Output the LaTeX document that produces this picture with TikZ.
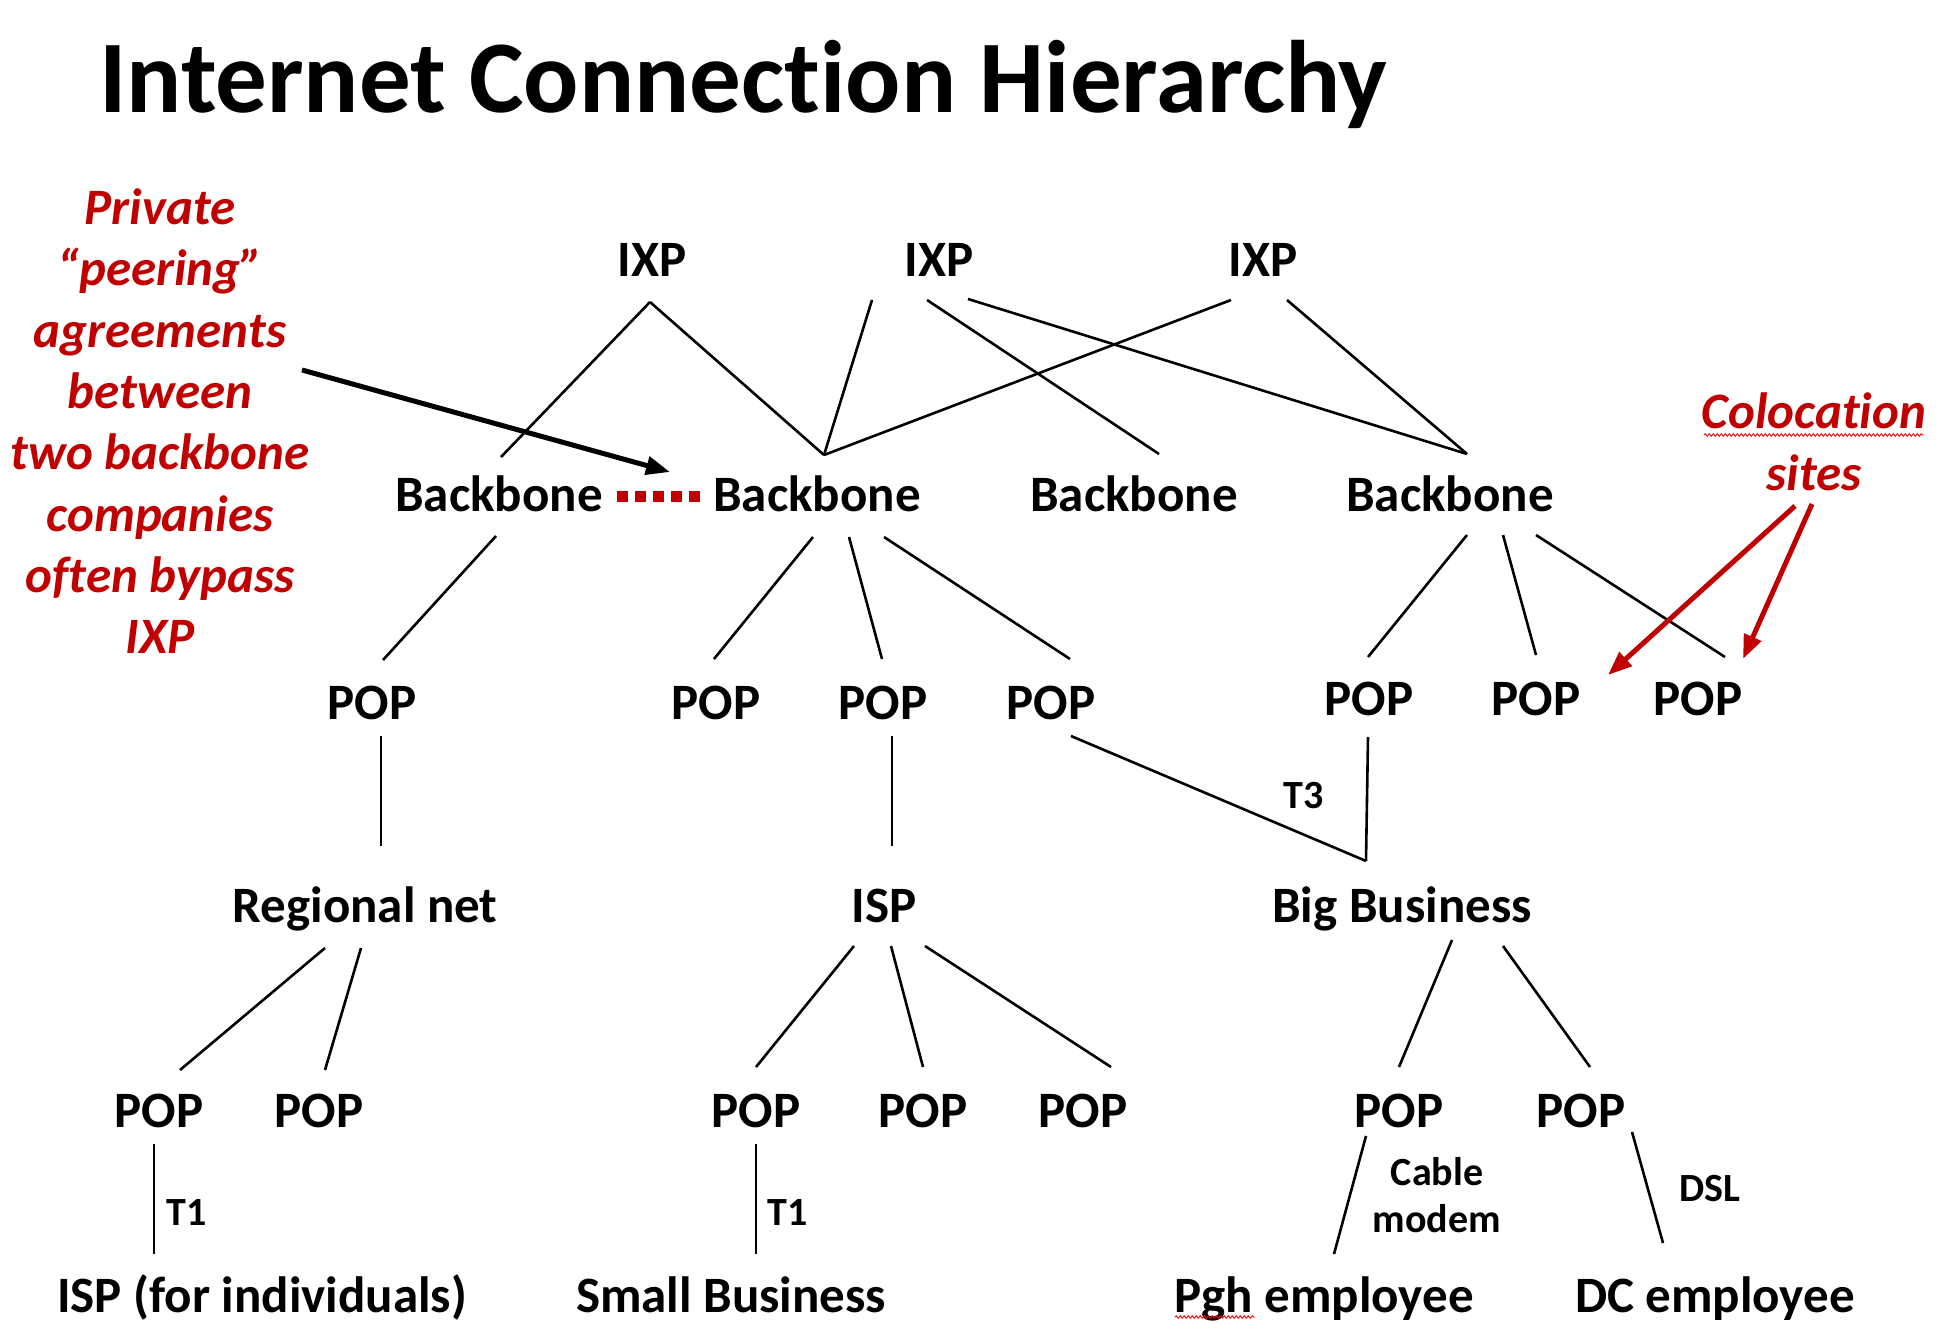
\documentclass[tikz,border=0pt]{standalone}
\usepackage{fontspec}
\setmainfont[Ligatures=NoCommon]{Carlito}
\usetikzlibrary{arrows.meta,decorations.pathmorphing}
\definecolor{darkred}{RGB}{192,0,0}
\begin{document}
\begin{tikzpicture}[x=1pt,y=-1pt,
  lbl/.style={anchor=base,inner sep=0pt,font=\fontsize{51}{60}\selectfont\bfseries},
  smalllbl/.style={anchor=base,inner sep=0pt,font=\fontsize{40}{48}\selectfont\bfseries},
  note/.style={anchor=base,inner sep=0pt,text=darkred,font=\fontsize{51}{60}\selectfont\bfseries\itshape},
  link/.style={line width=2.6pt},
  redarrow/.style={draw=darkred,line width=5pt,-{Triangle[length=24pt,width=18pt]}},
  blackarrow/.style={draw=black,line width=5pt,-{Triangle[length=24pt,width=18pt]}},
  squiggle/.style={draw=red,line width=0.9pt,decorate,decoration={snake,amplitude=1.3pt,segment length=4pt}},
]
\fill[white] (0,0) rectangle (1946,1332);
\useasboundingbox (0,0) rectangle (1946,1332);

\node[anchor=base west,inner sep=0pt,font=\fontsize{103}{120}\selectfont\bfseries] (title) at (99,113) {Internet Connection Hierarchy};

% annotation left
\node[note] (n1) at (160,225) {Private};
\node[note] (n2) at (160,286) {“peering”};
\node[note] (n3) at (160,347) {agreements};
\node[note] (n4) at (160,408) {between};
\node[note] (n5) at (160,469) {two backbone};
\node[note] (n6) at (160,531) {companies};
\node[note] (n7) at (160,592) {often bypass};
\node[note] (n8) at (160,653) {IXP};
\coordinate (peerstart) at (302,370);

% annotation right
\node[note] (colo) at (1814,428) {Colocation};
\node[note] (sites) at (1814,490) {sites};

% IXPs
\node[lbl] (ixp1) at (652,277) {IXP};
\node[lbl] (ixp2) at (939,277) {IXP};
\node[lbl] (ixp3) at (1263,277) {IXP};

% Backbones
\node[lbl] (bb1) at (499,511) {Backbone};
\node[lbl] (bb2) at (817,511) {Backbone};
\node[lbl] (bb3) at (1134,511) {Backbone};
\node[lbl] (bb4) at (1450,511) {Backbone};

% POP row 1
\node[lbl] (pa) at (372,719) {POP};
\node[lbl] (pb) at (716,719) {POP};
\node[lbl] (pc) at (883,719) {POP};
\node[lbl] (pd) at (1051,719) {POP};
\node[lbl] (pe) at (1369,715) {POP};
\node[lbl] (pf) at (1536,715) {POP};
\node[lbl] (pg) at (1698,715) {POP};

% middle
\node[lbl] (reg) at (365,922) {Regional net};
\node[lbl] (isp) at (884,922) {ISP};
\node[lbl] (big) at (1402,922) {Big Business};

% POP row 2
\node[lbl] (ph) at (159,1127) {POP};
\node[lbl] (pi) at (319,1127) {POP};
\node[lbl] (pj) at (756,1127) {POP};
\node[lbl] (pk) at (923,1127) {POP};
\node[lbl] (pl) at (1083,1127) {POP};
\node[lbl] (pm) at (1399,1127) {POP};
\node[lbl] (pn) at (1581,1127) {POP};

% bottom
\node[lbl] (ispind) at (262,1312) {ISP (for individuals)};
\node[lbl] (small) at (731,1312) {Small Business};
\node[lbl] (pgh) at (1324,1312) {Pgh employee};
\node[lbl] (dc) at (1715,1312) {DC employee};

% edge labels
\node[smalllbl] (t1a) at (187,1225) {T1};
\node[smalllbl] (t1b) at (788,1225) {T1};
\node[smalllbl] (t3) at (1304,808) {T3};
\node[smalllbl] (cab) at (1437,1185) {Cable};
\node[smalllbl] (mod) at (1437,1232) {modem};
\node[smalllbl] (dsl) at (1710,1201) {DSL};

% IXP links
\draw[link] ([shift={(-2,25)}]ixp1.base) -- ([shift={(2,-54)}]bb1.base);
\draw[link] ([shift={(-2,25)}]ixp1.base) -- ([shift={(7,-56)}]bb2.base);
\draw[link] ([shift={(-67,23)}]ixp2.base) -- ([shift={(7,-56)}]bb2.base);
\draw[link] ([shift={(-12,23)}]ixp2.base) -- ([shift={(25,-57)}]bb3.base);
\draw[link] ([shift={(29,22)}]ixp2.base) -- ([shift={(17,-57)}]bb4.base);
\draw[link] ([shift={(-32,23)}]ixp3.base) -- ([shift={(7,-56)}]bb2.base);
\draw[link] ([shift={(24,23)}]ixp3.base) -- ([shift={(17,-57)}]bb4.base);

% backbone to POP
\draw[link] ([shift={(-3,25)}]bb1.base) -- ([shift={(11,-59)}]pa.base);
\draw[link] ([shift={(-4,26)}]bb2.base) -- ([shift={(-2,-60)}]pb.base);
\draw[link] ([shift={(32,26)}]bb2.base) -- ([shift={(-1,-60)}]pc.base);
\draw[link] ([shift={(67,26)}]bb2.base) -- ([shift={(19,-60)}]pd.base);
\draw[link] ([shift={(17,24)}]bb4.base) -- ([shift={(-1,-58)}]pe.base);
\draw[link] ([shift={(53,24)}]bb4.base) -- ([shift={(0,-60)}]pf.base);
\draw[link] ([shift={(86,24)}]bb4.base) -- ([shift={(27,-58)}]pg.base);

% POP to middle
\draw[link] ([shift={(9,17)}]pa.base) -- ([shift={(16,-76)}]reg.base);
\draw[link] ([shift={(9,17)}]pc.base) -- ([shift={(8,-76)}]isp.base);
\coordinate (bigjoin) at ([shift={(-36,-61)}]big.base);
\draw[link] ([shift={(20,17)}]pd.base) -- (bigjoin);
\draw[link] ([shift={(-1,22)}]pe.base) -- (bigjoin);

% middle to POP row 2
\draw[link] ([shift={(-40,26)}]reg.base) -- ([shift={(21,-57)}]ph.base);
\draw[link] ([shift={(-4,26)}]reg.base) -- ([shift={(6,-57)}]pi.base);
\draw[link] ([shift={(-30,24)}]isp.base) -- ([shift={(0,-60)}]pj.base);
\draw[link] ([shift={(7,24)}]isp.base) -- ([shift={(0,-60)}]pk.base);
\draw[link] ([shift={(41,24)}]isp.base) -- ([shift={(28,-60)}]pl.base);
\draw[link] ([shift={(50,18)}]big.base) -- ([shift={(0,-60)}]pm.base);
\draw[link] ([shift={(101,24)}]big.base) -- ([shift={(9,-60)}]pn.base);

% POP row 2 to bottom
\draw[link] ([shift={(-5,17)}]ph.base) -- ([shift={(-108,-58)}]ispind.base);
\draw[link] ([shift={(0,17)}]pj.base) -- ([shift={(25,-58)}]small.base);
\draw[link] ([shift={(-33,9)}]pm.base) -- ([shift={(10,-58)}]pgh.base);
\draw[link] ([shift={(51,5)}]pn.base) -- ([shift={(-52,-69)}]dc.base);

% peering
\draw[darkred,line width=11pt,dash pattern=on 10.7pt off 7.4pt] ([shift={(118,-15)}]bb1.base) -- ([shift={(-117,-15)}]bb2.base);
\draw[blackarrow] (peerstart) -- ([shift={(-147,-39)}]bb2.base);

% colocation arrows
\draw[redarrow] ([shift={(-19,16)}]sites.base) -- ([shift={(72,-40)}]pf.base);
\draw[redarrow] ([shift={(-2,14)}]sites.base) -- ([shift={(45,-56)}]pg.base);

% spell-check squiggles
\draw[squiggle] (1704,435) -- (1924,435);
\draw[squiggle] (1175,1317) -- (1255,1317);
\end{tikzpicture}
\end{document}
